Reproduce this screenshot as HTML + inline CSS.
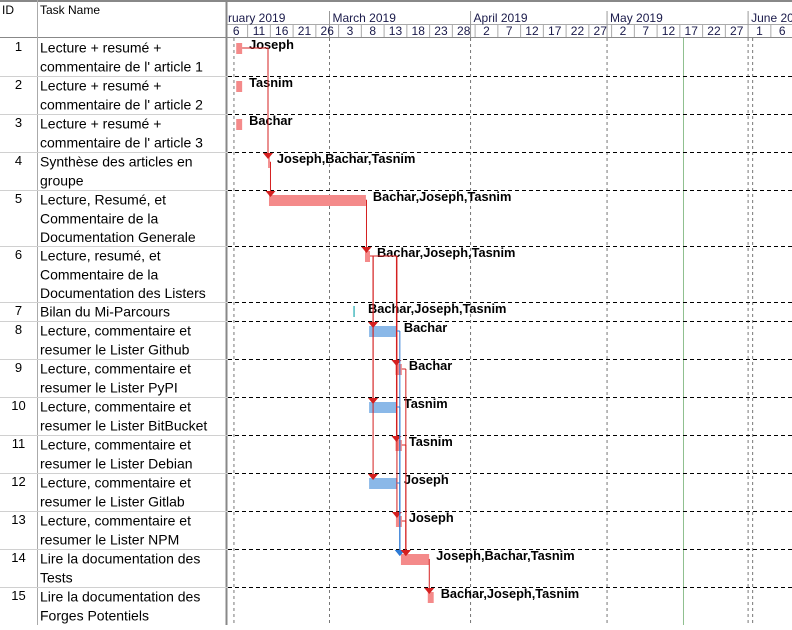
<!DOCTYPE html>
<html><head><meta charset="utf-8">
<style>
body{margin:0;background:#fff;width:792px;height:625px;overflow:hidden;font-family:"Liberation Sans",sans-serif;}
svg text{font-family:"Liberation Sans",sans-serif;}
</style></head>
<body>
<svg id="g" width="792" height="625" viewBox="0 0 792 625" xmlns="http://www.w3.org/2000/svg"></svg>
<script>
const taskIds=[1,2,3,4,5,6,7,8,9,10,11,12,13,14,15];
const taskNames=[
["Lecture + resumé +","commentaire de l' article 1"],
["Lecture + resumé +","commentaire de l' article 2"],
["Lecture + resumé +","commentaire de l' article 3"],
["Synthèse des articles en","groupe"],
["Lecture, Resumé, et","Commentaire de la","Documentation Generale"],
["Lecture, resumé, et","Commentaire de la","Documentation des Listers"],
["Bilan du Mi-Parcours"],
["Lecture, commentaire et","resumer le Lister Github"],
["Lecture, commentaire et","resumer le Lister PyPI"],
["Lecture, commentaire et","resumer le Lister BitBucket"],
["Lecture, commentaire et","resumer le Lister Debian"],
["Lecture, commentaire et","resumer le Lister Gitlab"],
["Lecture, commentaire et","resumer le Lister NPM"],
["Lire la documentation des","Tests"],
["Lire la documentation des","Forges Potentiels"]];
// start: days relative to 1 March 2019; duration in days
const taskStart=[-20.5,-20.5,-20.5,-13.5,-13.3,7.8,5.2,8.7,14.5,8.7,14.5,8.7,14.6,15.7,21.6];
const taskDur=[1.3,1.3,1.3,0.4,21.3,1.1,0.4,6.1,1.4,6.1,1.4,6.1,1.3,6.2,1.3];
const taskKind=["p","p","p","p","p","p","m","b","p","b","p","b","p","p","p"];
const resources=["Joseph","Tasnim","Bachar","Joseph,Bachar,Tasnim","Bachar,Joseph,Tasnim","Bachar,Joseph,Tasnim","Bachar,Joseph,Tasnim","Bachar","Bachar","Tasnim","Tasnim","Joseph","Joseph","Joseph,Bachar,Tasnim","Bachar,Joseph,Tasnim"];
const months=[["ruary 2019",-28],["March 2019",0],["April 2019",31],["May 2019",61],["June 2019",92]];
const dayTicks=[-23,-18,-13,-8,-3,2,7,12,17,22,27,32,37,42,47,52,57,62,67,72,77,82,87,92,97];
const dayLabels=["6","11","16","21","26","3","8","13","18","23","28","2","7","12","17","22","27","2","7","12","17","22","27","1","6"];
// dependencies [from, to] (0-based), color
const links=[[0,3,"r"],[3,4,"r"],[4,5,"r"],[5,7,"r"],[5,9,"r"],[5,11,"r"],[5,8,"r"],[5,10,"r"],[5,12,"r"],[7,13,"b"],[9,13,"b"],[11,13,"b"],[8,13,"r"],[10,13,"r"],[12,13,"r"],[13,14,"r"]];
const rowTops=[38,76,114,152,190,246,302,321,359,397,435,473,511,549,587,625];

const X0=329.5,PX=4.55;
const x=d=>X0+d*PX;
const svg=document.getElementById('g');
const NS="http://www.w3.org/2000/svg";
function mk(tag,at,parent){const e=document.createElementNS(NS,tag);for(const k in at)e.setAttribute(k,at[k]);(parent||svg).appendChild(e);return e;}

// header
const hdr=mk('g',{});


mk('line',{x1:0,y1:1,x2:792,y2:1,stroke:'#888','stroke-width':2},hdr);
mk('line',{x1:0,y1:37.5,x2:792,y2:37.5,stroke:'#888','stroke-width':1},hdr);
mk('line',{x1:227,y1:24.5,x2:792,y2:24.5,stroke:'#aaa','stroke-width':1},hdr);
let t=mk('text',{x:2,y:14,'font-size':12,fill:'#000'},hdr);t.textContent='ID';

t=mk('text',{x:40,y:14,'font-size':12,fill:'#000'},hdr);t.textContent='Task Name';


const clip=mk('clipPath',{id:'cp'});mk('rect',{x:228,y:0,width:564,height:625},clip);
const chart=mk('g',{'clip-path':'url(#cp)'});
months.forEach((m,i)=>{
  const xx=x(m[1]);
  mk('line',{x1:xx,y1:11,x2:xx,y2:37,stroke:'#999'},chart);
  const tx=mk('text',{x:Math.max(xx+3,228),y:22,'font-size':12,fill:'#1a1a4a'},chart);tx.textContent=m[0];
  
});
dayTicks.forEach((d,i)=>{
  const xx=x(d);
  mk('line',{x1:xx,y1:25,x2:xx,y2:37,stroke:'#aaa'},chart);
  const tx=mk('text',{x:xx+2.5*PX,y:35,'font-size':12,fill:'#1a1a4a','text-anchor':'middle'},chart);tx.textContent=dayLabels[i];
  
});
// vertical dashed lines
[-21,0,31,61,92,93].forEach(d=>mk('line',{x1:x(d),y1:38,x2:x(d),y2:625,stroke:'#777','stroke-dasharray':'3,3'},chart));
mk('line',{x1:x(77.8),y1:38,x2:x(77.8),y2:625,stroke:'#8fbf8f'},chart);
// table column lines
mk('line',{x1:37.5,y1:0,x2:37.5,y2:625,stroke:'#aaa'});
mk('line',{x1:226.5,y1:0,x2:226.5,y2:625,stroke:'#888','stroke-width':2});

// rows
taskIds.forEach((id,i)=>{
  const top=rowTops[i];
  const row=mk('g',{});
  
  
  if(i>0){
    mk('line',{x1:0,y1:top+0.5,x2:227,y2:top+0.5,stroke:'#d0d0d0'},row);
    mk('line',{x1:228,y1:top+0.5,x2:792,y2:top+0.5,stroke:'#000','stroke-dasharray':'4,3'},row);
  }
  let e=mk('text',{x:18.5,y:top+13,'font-size':13,'text-anchor':'middle',fill:'#000'},row);e.textContent=id;
  
  taskNames[i].forEach((ln,j)=>{
    const tt=mk('text',{x:40,y:top+14.5+j*18.8,'font-size':14,fill:'#000'},row);tt.textContent=ln;
    
  });
  const g=mk('g',{'clip-path':'url(#cp)'},row);
  const bx=x(taskStart[i]),bw=Math.max(taskDur[i]*PX,1.5);
  const col=taskKind[i]==='b'?'#8ab8e8':taskKind[i]==='m'?'#6cc8cc':'#f48a8a';
  const by=taskKind[i]==='m'?top+4:top+5, bh=11;
  const bar=mk('rect',{x:bx,y:by,width:bw,height:bh,fill:col},g);
  
  
  const lbl=mk('text',{x:bx+bw+(taskKind[i]==='m'?13:7),y:top+11,'font-size':12.8,'font-weight':'bold',fill:'#000'},g);
  lbl.textContent=resources[i];
  
  
});

// links
const lg=mk('g',{'clip-path':'url(#cp)'});


links.forEach(([a,b,c])=>{
  const col=c==='b'?'#2e7bd6':'#d42020';
  const ex=x(taskStart[a]+taskDur[a]);
  let vx;
  if(a===5&&[7,9,11].includes(b)) vx=x(taskStart[b])+4;
  else if(a===5) vx=x(taskStart[b])+1;
  else if(b===13) vx=c==='b'?x(taskStart[a]+taskDur[a])+3:x(taskStart[a]+taskDur[a])+4;
  else vx=x(taskStart[b])+1.5;
  if(a===0) vx=268;
  const ay=rowTops[a]+10, by=rowTops[b]+1;
  mk('path',{d:`M${ex} ${ay} H${Math.max(vx,ex)+(vx>ex?0:3)} V${ay} M${vx} ${ay} V${by}`,stroke:col,fill:'none','stroke-width':1},lg);
  mk('path',{d:`M${vx-5} ${by} L${vx+5} ${by} L${vx} ${by+6} Z`,fill:col},lg);
});
</script>
</body></html>
